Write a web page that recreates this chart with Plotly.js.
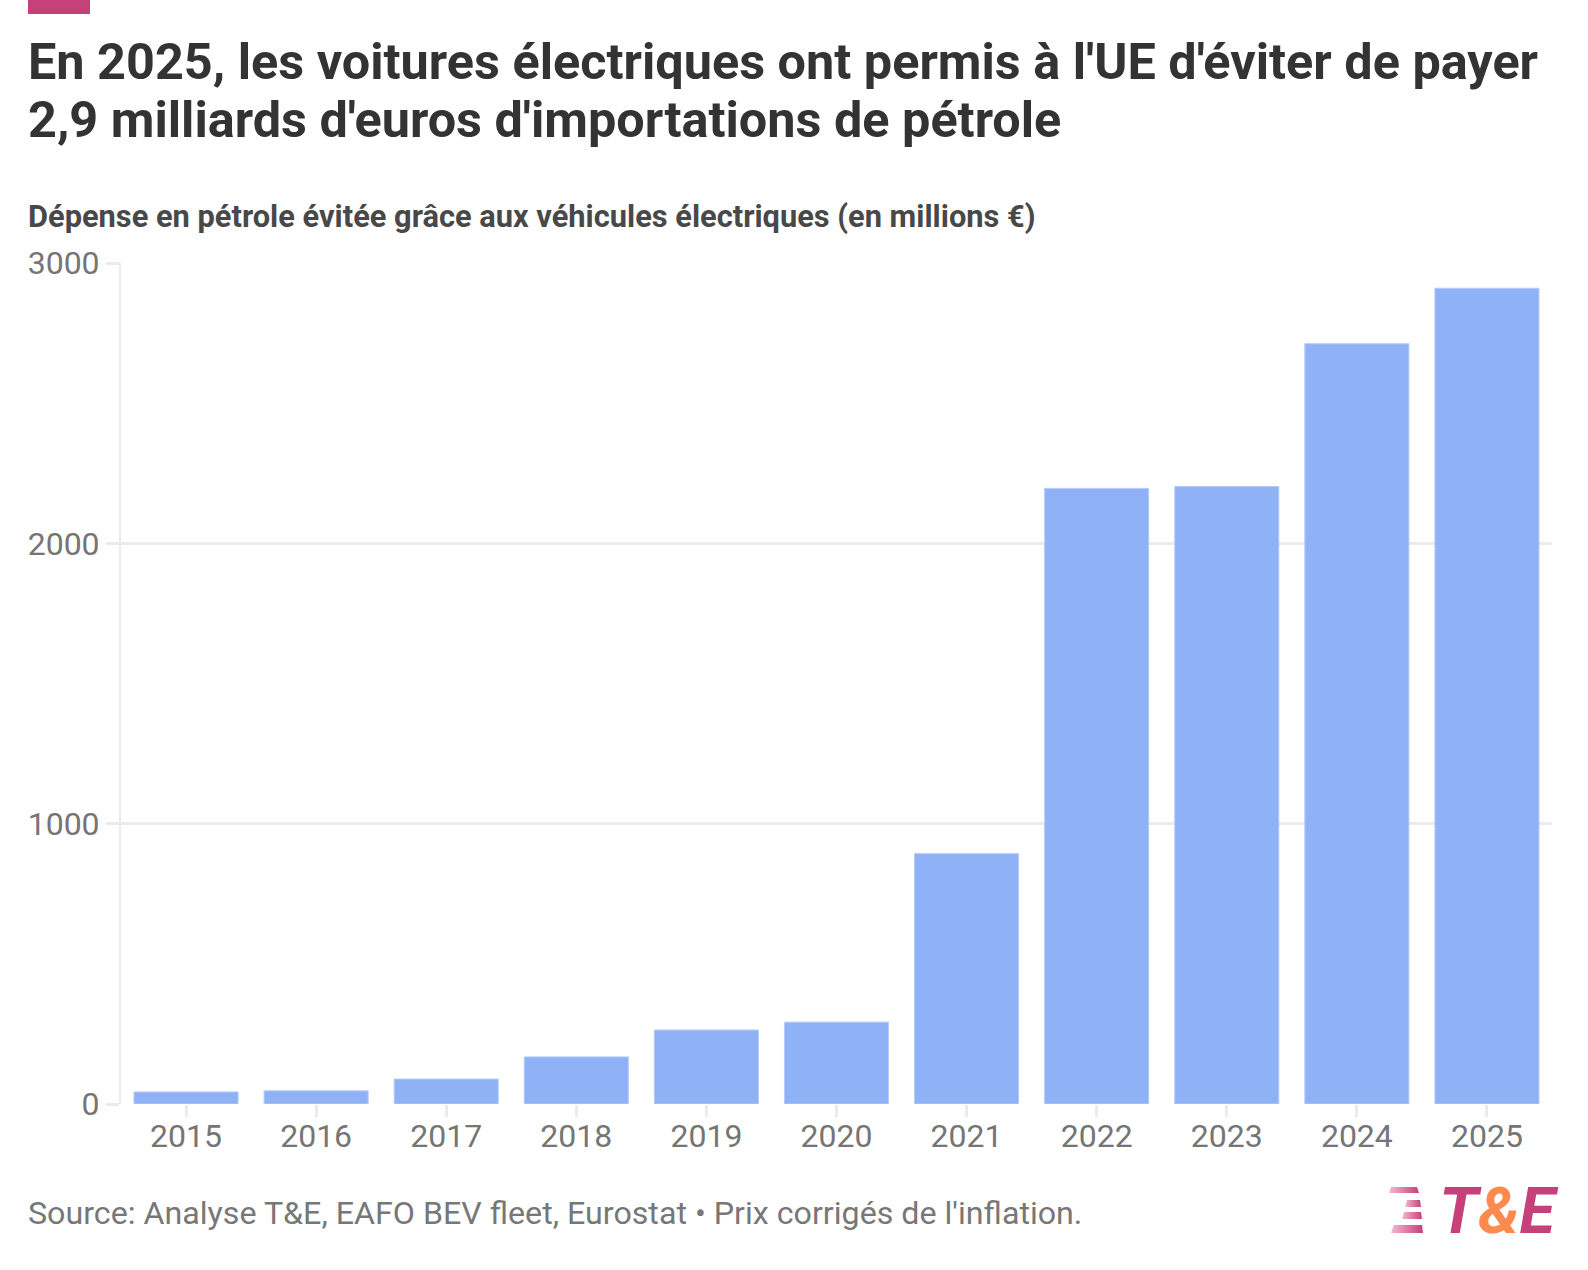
<!DOCTYPE html>
<html>
<head>
<meta charset="utf-8">
<script src="https://cdn.plot.ly/plotly-3.0.1.min.js"></script>
<style>
  body { margin: 0; background: #fff; }
  #plot { width: 1588px; height: 1270px; }
</style>
</head>
<body>
<div id="plot"></div>
<script>
// valeurs (millions d'euros)
var years = ['2015', '2016', '2017', '2018', '2019', '2020', '2021', '2022', '2023', '2024', '2025'];
var avoided = [43, 47, 89, 168, 264, 292, 893, 2196, 2203, 2712, 2910];
var yTicks = [0, 1000, 2000, 3000];

var titleLine1 = "En 2025, les voitures électriques ont permis à l'UE d'éviter de payer";
var titleLine2 = "2,9 milliards d'euros d'importations de pétrole";
var subtitle = "Dépense en pétrole évitée grâce aux véhicules électriques (en millions €)";
var source = "Source: Analyse T&amp;E, EAFO BEV fleet, Eurostat • Prix corrigés de l'inflation.";

// plot area in pixels
var L = 121, R = 1552, T = 263, B = 1104;
function px(x) { return (x - L) / (R - L); }
function py(y) { return (B - y) / (B - T); }

var pink = '#c4417a';
var grid = '#ebebeb';

var stripes = 'data:image/svg+xml;utf8,' + encodeURIComponent(
    '<svg xmlns="http://www.w3.org/2000/svg" width="34" height="48" viewBox="0 0 34 48">' +
    '<defs><linearGradient id="g" x1="0" x2="1" y1="0" y2="0">' +
    '<stop offset="0" stop-color="#f4b8d0"/><stop offset="1" stop-color="#c4417a"/></linearGradient></defs>' +
    '<g fill="url(#g)">' +
    '<polygon points="2,1 28,1 30,7 0,7"/>' +
    '<polygon points="18,14 31,14 32,21 16,21"/>' +
    '<polygon points="15,26 32,26 33,33 13,33"/>' +
    '<polygon points="5,39 33,39 34,47 2,47"/>' +
    '</g></svg>');

var trace = {
    x: years,
    y: avoided,
    type: 'bar',
    marker: { color: '#8fb2f6', line: { color: '#b5cbf9', width: 1 } },
    hoverinfo: 'skip'
};

var layout = {
    width: 1588,
    height: 1270,
    margin: { l: L, r: 1588 - R, t: T, b: 1270 - B },
    paper_bgcolor: '#fff',
    plot_bgcolor: '#fff',
    font: { family: 'Roboto, sans-serif', color: '#757575' },
    bargap: 0.2,
    showlegend: false,
    xaxis: {
        type: 'category',
        showgrid: false,
        zeroline: false,
        ticks: 'outside',
        ticklen: 12,
        tickwidth: 3,
        tickcolor: grid,
        ticklabelstandoff: -8,
        tickfont: { size: 32, color: '#757575' }
    },
    yaxis: {
        range: [0, 3000],
        tickvals: yTicks,
        tickformat: 'd',
        showgrid: true,
        gridcolor: grid,
        gridwidth: 3,
        zeroline: false,
        showline: true,
        linecolor: grid,
        linewidth: 2,
        ticks: 'outside',
        ticklen: 13,
        tickwidth: 3,
        tickcolor: grid,
        tickfont: { size: 32, color: '#757575' }
    },
    shapes: [
        { type: 'rect', xref: 'paper', yref: 'paper', x0: px(28), x1: px(90), y0: py(0), y1: py(14),
          fillcolor: pink, line: { width: 0 } }
    ],
    images: [
        { source: stripes, xref: 'paper', yref: 'paper', x: px(1389), y: py(1186),
          sizex: 34 / (R - L), sizey: 48 / (B - T), sizing: 'stretch', xanchor: 'left', yanchor: 'top' }
    ],
    annotations: [
        { text: titleLine1, xref: 'paper', yref: 'paper', x: px(26), y: py(61), xanchor: 'left', yanchor: 'middle',
          showarrow: false, font: { size: 50.4, weight: 'bold', color: '#333333' } },
        { text: titleLine2, xref: 'paper', yref: 'paper', x: px(26), y: py(120), xanchor: 'left', yanchor: 'middle',
          showarrow: false, font: { size: 50.4, weight: 'bold', color: '#333333' } },
        { text: subtitle, xref: 'paper', yref: 'paper', x: px(26), y: py(216), xanchor: 'left', yanchor: 'middle',
          showarrow: false, font: { size: 30.8, weight: 'bold', color: '#484848' } },
        { text: source, xref: 'paper', yref: 'paper', x: px(26), y: py(1213), xanchor: 'left', yanchor: 'middle',
          showarrow: false, font: { size: 32.2, color: '#777777' } },
        { text: '<span style="color:' + pink + '">T</span><span style="color:#ff8a50">&amp;</span><span style="color:' + pink + '">E</span>',
          xref: 'paper', yref: 'paper', x: px(1561), y: py(1211), xanchor: 'right', yanchor: 'middle',
          showarrow: false, font: { size: 65, weight: 'bold', style: 'italic' } }
    ]
};

Plotly.newPlot('plot', [trace], layout, { displayModeBar: false, staticPlot: true });
</script>
</body>
</html>
